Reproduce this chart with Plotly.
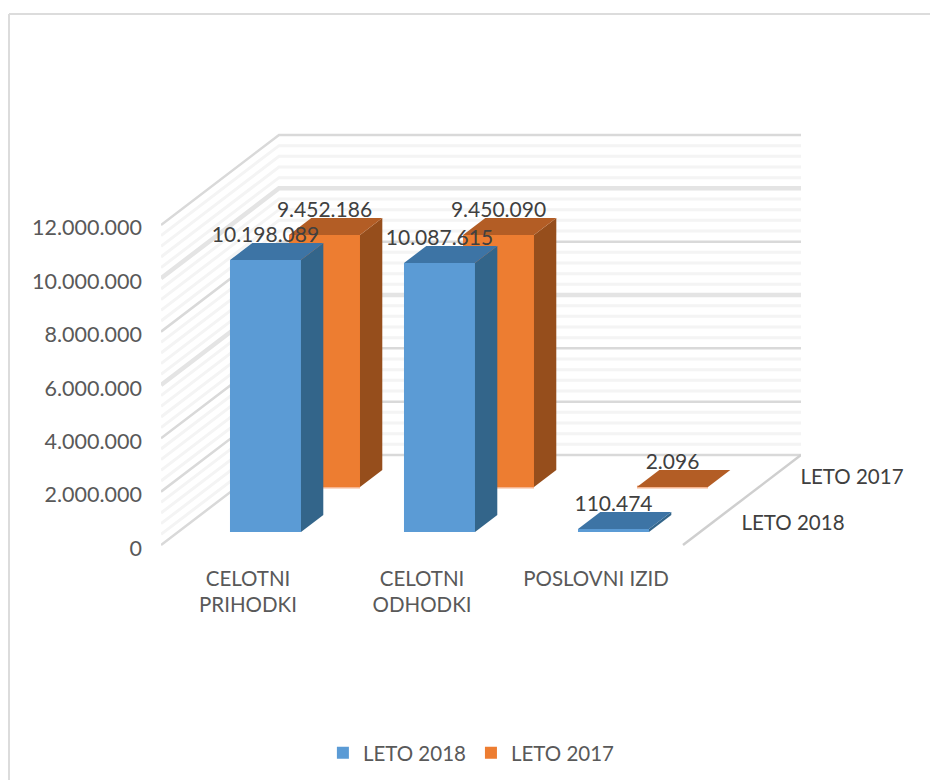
import plotly.graph_objects as go

# Values
CATEGORIES = ["CELOTNI<br>PRIHODKI", "CELOTNI<br>ODHODKI", "POSLOVNI IZID"]
SERIES_NAMES = ["LETO 2018", "LETO 2017"]
VALUES_2018 = [10198089, 10087615, 110474]
VALUES_2017 = [9452186, 9450090, 2096]
LABELS_2018 = ["10.198.089", "10.087.615", "110.474"]
LABELS_2017 = ["9.452.186", "9.450.090", "2.096"]
TICK_VALUES = [0, 2000000, 4000000, 6000000, 8000000, 10000000, 12000000]
TICK_LABELS = ["0", "2.000.000", "4.000.000", "6.000.000", "8.000.000", "10.000.000", "12.000.000"]

# Colours
BLUE = ["#5b9bd5", "#3d74a5", "#33658a"]       # front, top, side
ORANGE = ["#ed7d31", "#b35d25", "#964e1c"]
ORANGE_EDGE = "#f6b48f"
GRID_MAJOR = "#d9d9d9"
GRID_SOFT = "#e4e4e4"
GRID_MINOR = "#f4f4f4"
TEXT = "#595959"
LABEL_TEXT = "#404040"
FONT = "Lato"

# Oblique projection: one category is 174 px wide, 1M is 26.67 px tall
PX_PER_CAT = 174
PX_PER_VAL = 26.67 / 1e6
DEPTH_X = 118 / PX_PER_CAT
DEPTH_Y = 90 / PX_PER_VAL
FLOOR_LIFT = 3 / PX_PER_VAL     # floor front edge sits a little above the zero tick label
BAR_OFFSET = 52 / PX_PER_CAT
BAR_WIDTH = 71 / PX_PER_CAT
DEPTH_2018 = (0.144, 0.333)
DEPTH_2017 = (0.644, 0.833)
LABEL_LIFT = 23 / PX_PER_VAL


def px(x, depth, value):
    return x + depth * DEPTH_X, value + depth * DEPTH_Y + FLOOR_LIFT


def polygon(corners, color):
    xs = [c[0] for c in corners]
    ys = [c[1] for c in corners]
    return go.Scatter(x=xs + xs[:1], y=ys + ys[:1], mode="lines", fill="toself", fillcolor=color,
                      line=dict(width=0, color=color), showlegend=False, hoverinfo="skip")


def front_bar(values, depth, color, name, rank):
    centers = [i + BAR_OFFSET + BAR_WIDTH / 2 + depth[0] * DEPTH_X for i in range(len(values))]
    base = px(0, depth[0], 0)[1]
    return go.Bar(x=centers, y=values, base=[base] * len(values), width=BAR_WIDTH,
                  marker=dict(color=color, line=dict(width=0)), name=name, legendrank=rank,
                  hoverinfo="skip")


def faces(values, depth, colors):
    out = []
    for i, v in enumerate(values):
        left = i + BAR_OFFSET
        right = left + BAR_WIDTH
        out.append(polygon([px(left, depth[0], 0), px(right, depth[0], 0),
                            px(right, depth[0], v), px(left, depth[0], v)], colors[0]))
        out.append(polygon([px(right, depth[0], 0), px(right, depth[1], 0),
                            px(right, depth[1], v), px(right, depth[0], v)], colors[2]))
        out.append(polygon([px(left, depth[0], v), px(right, depth[0], v),
                            px(right, depth[1], v), px(left, depth[1], v)], colors[1]))
    return out


def bottom_edges(values, depth, color):
    traces = []
    for i in range(len(values)):
        left = i + BAR_OFFSET
        a = px(left, depth[0], 0)
        b = px(left + BAR_WIDTH, depth[0], 0)
        traces.append(go.Scatter(x=[a[0], b[0]], y=[a[1], b[1]], mode="lines",
                                 line=dict(width=3, color=color), showlegend=False, hoverinfo="skip"))
    return traces


def value_labels(values, labels, depth):
    xs, ys = [], []
    for i, v in enumerate(values):
        x, y = px(i + BAR_OFFSET + BAR_WIDTH / 2, depth[0], v)
        xs.append(x)
        ys.append(y + LABEL_LIFT)
    return go.Scatter(x=xs, y=ys, mode="text", text=labels, textposition="middle center",
                      textfont=dict(family=FONT, size=21, color=LABEL_TEXT),
                      cliponaxis=False, showlegend=False, hoverinfo="skip")


def wall_line(v, color, width):
    # runs along the left wall and then the back wall
    n = len(CATEGORIES)
    a = px(0, 0, v)
    b = px(0, 1, v)
    c = px(n, 1, v)
    return dict(type="path", path=f"M {a[0]},{a[1]} L {b[0]},{b[1]} L {c[0]},{c[1]}",
                xref="x", yref="y", layer="below", line=dict(color=color, width=width))


fig = go.Figure()

# bars sit in the bar layer, the orange one first so the blue one stays in front
fig.add_trace(front_bar(VALUES_2017, DEPTH_2017, ORANGE[0], SERIES_NAMES[1], 2))
fig.add_trace(front_bar(VALUES_2018, DEPTH_2018, BLUE[0], SERIES_NAMES[0], 1))

for t in bottom_edges(VALUES_2017, DEPTH_2017, ORANGE_EDGE):
    fig.add_trace(t)
for t in faces(VALUES_2017, DEPTH_2017, ORANGE):
    fig.add_trace(t)
for t in faces(VALUES_2018, DEPTH_2018, BLUE):
    fig.add_trace(t)

fig.add_trace(value_labels(VALUES_2017, LABELS_2017, DEPTH_2017))
fig.add_trace(value_labels(VALUES_2018, LABELS_2018, DEPTH_2018))

# depth axis labels, next to the right floor edge
depth_x = [px(3, 0.25, 0)[0] + 29 / PX_PER_CAT, px(3, 0.75, 0)[0] + 29 / PX_PER_CAT]
depth_y = [px(3, 0.25, 0)[1] - 2 / PX_PER_VAL, px(3, 0.75, 0)[1] - 1 / PX_PER_VAL]
fig.add_trace(go.Scatter(x=depth_x, y=depth_y, mode="text", text=SERIES_NAMES,
                         textposition="middle right", cliponaxis=False,
                         textfont=dict(family=FONT, size=20.5, color=LABEL_TEXT),
                         showlegend=False, hoverinfo="skip"))

shapes = []
for v in range(0, 12000000, 400000):
    if v % 2000000:
        shapes.append(wall_line(v, GRID_MINOR, 3))
for v in TICK_VALUES:
    if v in (6000000, 10000000):
        shapes.append(wall_line(v, GRID_SOFT, 4.5))
    else:
        shapes.append(wall_line(v, GRID_MAJOR, 2.5))

# right floor edge
floor_a = px(3, 0, 0)
floor_b = px(3, 1, 0)
shapes.append(dict(type="line", xref="x", yref="y", layer="below", x0=floor_a[0], y0=floor_a[1],
                   x1=floor_b[0], y1=floor_b[1], line=dict(color="#cfcfcf", width=2.5)))

# chart frame, open on the right and at the bottom
shapes.append(dict(type="line", xref="paper", yref="paper", x0=(9 - 161) / 640, x1=(930 - 161) / 640,
                   y0=(548 - 14) / 418, y1=(548 - 14) / 418, line=dict(color="#dcdcdc", width=2)))
shapes.append(dict(type="line", xref="paper", yref="paper", x0=(9 - 161) / 640, x1=(9 - 161) / 640,
                   y0=(548 - 14) / 418, y1=(548 - 780) / 418, line=dict(color="#dcdcdc", width=2)))

fig.update_layout(
    width=930, height=780,
    margin=dict(l=161, r=129, t=130, b=232, autoexpand=False),
    paper_bgcolor="white", plot_bgcolor="rgba(0,0,0,0)",
    barmode="overlay", shapes=shapes,
    font=dict(family=FONT, size=20, color=TEXT),
    legend=dict(orientation="h", x=0.485, xanchor="center", y=-0.49, yanchor="middle",
                font=dict(family=FONT, size=20.5, color=TEXT)),
    xaxis=dict(range=[0, 640 / PX_PER_CAT], tickvals=[0.5, 1.5, 2.5], ticktext=CATEGORIES,
               showgrid=False, zeroline=False, showline=False, ticks="",
               ticklabelstandoff=16, tickangle=0, tickfont=dict(family=FONT, size=20.5, color=TEXT)),
    yaxis=dict(range=[0, 418 / PX_PER_VAL], tickvals=TICK_VALUES, ticktext=TICK_LABELS,
               showgrid=False, zeroline=False, showline=False, ticks="",
               ticklabelstandoff=18, tickfont=dict(family=FONT, size=21.5, color=TEXT)),
)

fig.write_html("out.html", config=dict(displayModeBar=False), post_script="document.body.style.margin='0';")
